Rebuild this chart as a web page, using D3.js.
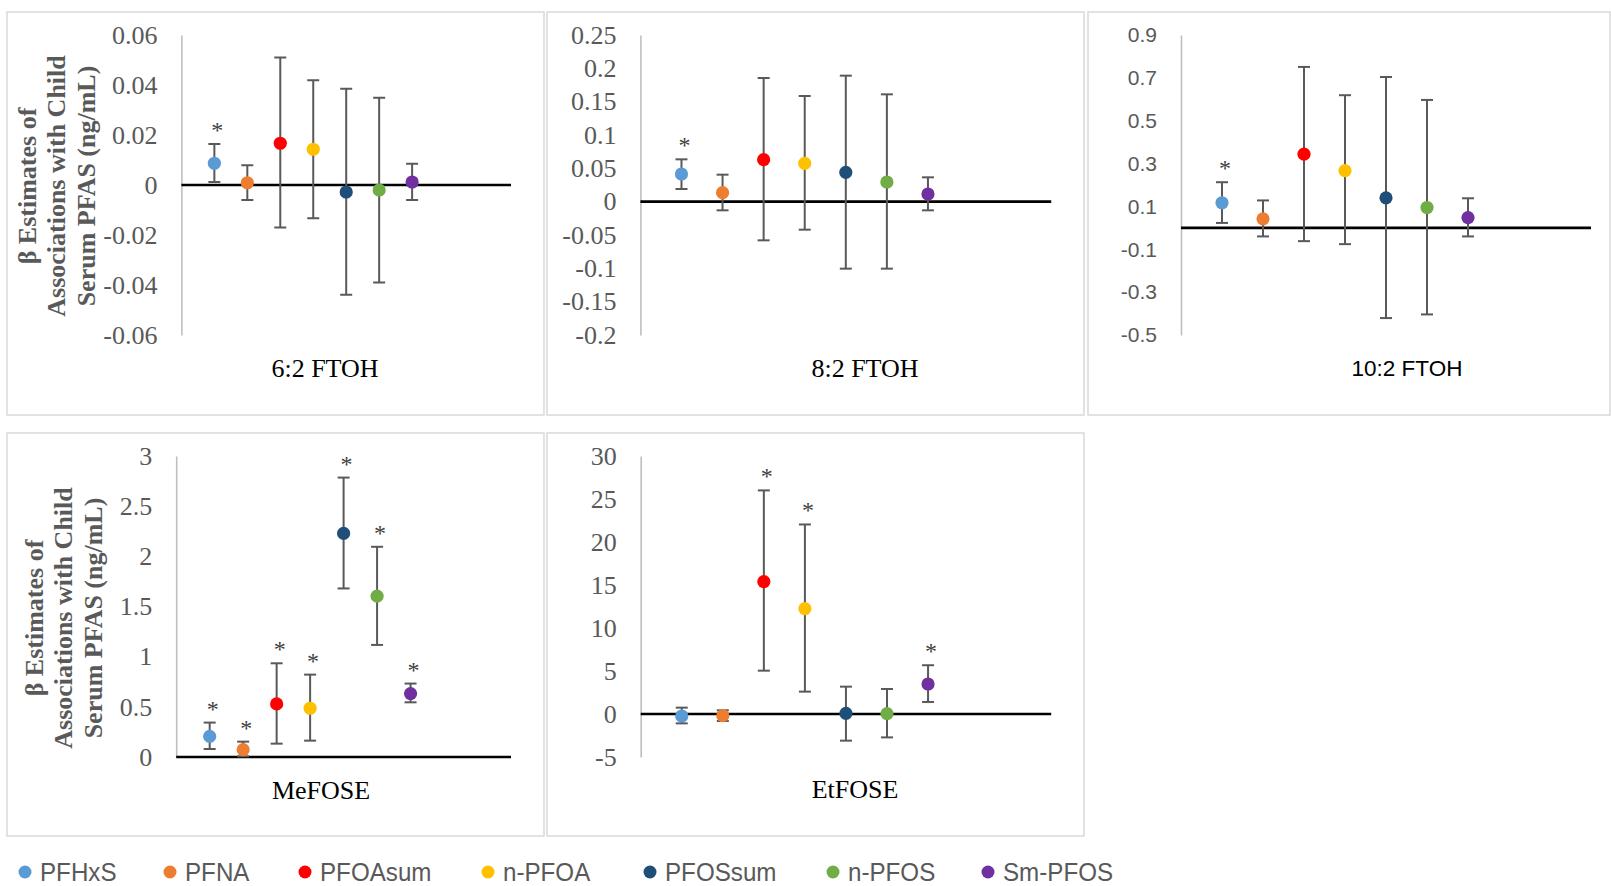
<!DOCTYPE html>
<html>
<head>
<meta charset="utf-8">
<script src="https://cdn.jsdelivr.net/npm/d3@7"></script>
<style>
  html, body { margin: 0; padding: 0; background: #ffffff; }
  svg { display: block; }
</style>
</head>
<body>
<svg id="chart" width="1611" height="886"></svg>
<script>
// ---------------- DATA ----------------
const categories = ["PFHxS", "PFNA", "PFOAsum", "n-PFOA", "PFOSsum", "n-PFOS", "Sm-PFOS"];
const seriesColors = ["#5B9BD5", "#ED7D31", "#FF0000", "#FFC000", "#1F4E79", "#70AD47", "#7030A0"];

const panelTitles = ["6:2 FTOH", "8:2 FTOH", "10:2 FTOH", "MeFOSE", "EtFOSE"];

// 6:2 FTOH
const ftoh62Est = [0.0087, 0.0009, 0.0167, 0.0143, -0.0028, -0.0020, 0.0012];
const ftoh62Lo  = [0.0012, -0.0060, -0.0170, -0.0133, -0.0439, -0.0390, -0.0060];
const ftoh62Hi  = [0.0164, 0.0079, 0.0510, 0.0419, 0.0385, 0.0349, 0.0085];
const ftoh62Sig = [true, false, false, false, false, false, false];
const ftoh62Ticks = [0.06, 0.04, 0.02, 0, -0.02, -0.04, -0.06];

// 8:2 FTOH
const ftoh82Est = [0.0415, 0.0135, 0.0630, 0.0575, 0.0440, 0.0295, 0.0115];
const ftoh82Lo  = [0.0190, -0.0130, -0.0580, -0.0420, -0.1005, -0.1005, -0.0130];
const ftoh82Hi  = [0.0635, 0.0405, 0.1855, 0.1585, 0.1890, 0.1610, 0.0365];
const ftoh82Sig = [true, false, false, false, false, false, false];
const ftoh82Ticks = [0.25, 0.2, 0.15, 0.1, 0.05, 0, -0.05, -0.1, -0.15, -0.2];

// 10:2 FTOH
const ftoh102Est = [0.117, 0.042, 0.344, 0.267, 0.140, 0.095, 0.048];
const ftoh102Lo  = [0.023, -0.040, -0.062, -0.076, -0.421, -0.404, -0.040];
const ftoh102Hi  = [0.213, 0.128, 0.751, 0.619, 0.704, 0.597, 0.138];
const ftoh102Sig = [true, false, false, false, false, false, false];
const ftoh102Ticks = [0.9, 0.7, 0.5, 0.3, 0.1, -0.1, -0.3, -0.5];

// MeFOSE
const mefoseEst = [0.206, 0.073, 0.529, 0.486, 2.228, 1.603, 0.632];
const mefoseLo  = [0.080, 0.007, 0.133, 0.163, 1.680, 1.117, 0.545];
const mefoseHi  = [0.343, 0.153, 0.934, 0.821, 2.785, 2.095, 0.732];
const mefoseSig = [true, true, true, true, true, true, true];
const mefoseTicks = [3, 2.5, 2, 1.5, 1, 0.5, 0];

// EtFOSE
const etfoseEst = [-0.23, -0.19, 15.4, 12.26, 0.08, 0.04, 3.49];
const etfoseLo  = [-1.09, -0.81, 5.04, 2.60, -3.10, -2.72, 1.40];
const etfoseHi  = [0.74, 0.43, 26.0, 22.04, 3.18, 2.91, 5.67];
const etfoseSig = [false, false, true, true, false, false, true];
const etfoseTicks = [30, 25, 20, 15, 10, 5, 0, -5];

const yAxisTitleLines = ["β Estimates of", "Associations with Child", "Serum PFAS (ng/mL)"];

// ---------------- LAYOUT ----------------
const panelData = [
  { est: ftoh62Est, lo: ftoh62Lo, hi: ftoh62Hi, sig: ftoh62Sig, ticks: ftoh62Ticks },
  { est: ftoh82Est, lo: ftoh82Lo, hi: ftoh82Hi, sig: ftoh82Sig, ticks: ftoh82Ticks },
  { est: ftoh102Est, lo: ftoh102Lo, hi: ftoh102Hi, sig: ftoh102Sig, ticks: ftoh102Ticks },
  { est: mefoseEst, lo: mefoseLo, hi: mefoseHi, sig: mefoseSig, ticks: mefoseTicks },
  { est: etfoseEst, lo: etfoseLo, hi: etfoseHi, sig: etfoseSig, ticks: etfoseTicks }
];

const panelLayout = [
  { bx: 7,    by: 12,  bw: 537, bh: 403, ax: 181.4, ar: 511,    top: 35,  bottom: 335, serif: true,  tx: 325,  ty: 368, yt: { cx: [27, 56.5, 86], cy: 186 } },
  { bx: 547,  by: 12,  bw: 537, bh: 403, ax: 640.4, ar: 1051.2, top: 35,  bottom: 335, serif: true,  tx: 865,  ty: 368 },
  { bx: 1088, by: 12,  bw: 522, bh: 403, ax: 1181,  ar: 1591,   top: 35,  bottom: 335, serif: false, tx: 1407, ty: 368 },
  { bx: 7,    by: 433, bw: 537, bh: 403, ax: 176.2, ar: 511,    top: 456, bottom: 757, serif: true,  tx: 321,  ty: 790, yt: { cx: [34, 63.5, 93], cy: 618 } },
  { bx: 547,  by: 433, bw: 537, bh: 403, ax: 640.7, ar: 1051.2, top: 456, bottom: 757, serif: true,  tx: 855,  ty: 789 }
];

// legend item marker positions (layout only)
const legendLayout = { y: 872, markerX: [25, 170, 305, 488, 650, 833, 988], textGap: 15, textScale: 0.93 };

const SERIF = "'Liberation Serif', 'Times New Roman', serif";
const SANS = "'Liberation Sans', Arial, sans-serif";
const GREY = "#595959";

const svg = d3.select("#chart");

panelData.forEach((pd, pi) => {
  const L = panelLayout[pi];
  const g = svg.append("g");

  // panel border
  g.append("rect")
    .attr("x", L.bx).attr("y", L.by).attr("width", L.bw).attr("height", L.bh)
    .attr("fill", "#ffffff").attr("stroke", "#d9d9d9").attr("stroke-width", 1.5);

  const y = d3.scaleLinear()
    .domain([d3.min(pd.ticks), d3.max(pd.ticks)])
    .range([L.bottom, L.top]);
  const x = d3.scaleLinear().domain([0, 10]).range([L.ax, L.ar]);

  // y axis
  const fmt = v => (v === 0 ? "0" : String(v));
  const axis = d3.axisLeft(y)
    .tickValues(pd.ticks)
    .tickFormat(fmt)
    .tickSizeInner(0)
    .tickSizeOuter(0)
    .tickPadding(24);
  const ag = g.append("g").attr("transform", `translate(${L.ax},0)`).call(axis);
  ag.select(".domain").attr("stroke", "#bfbfbf").attr("stroke-width", 1.6);
  ag.selectAll(".tick line").remove();
  ag.selectAll(".tick text")
    .attr("fill", GREY)
    .style("font-family", L.serif ? SERIF : SANS)
    .style("font-size", L.serif ? "26px" : "21px");

  // zero line
  g.append("line")
    .attr("x1", x.range()[0]).attr("x2", x.range()[1])
    .attr("y1", y(0)).attr("y2", y(0))
    .attr("stroke", "#000000").attr("stroke-width", 2.6);

  const idx = d3.range(categories.length);

  // error bars
  const eb = g.append("g").attr("stroke", GREY).attr("stroke-width", 2).attr("fill", "none");
  idx.forEach(i => {
    const cx = x(i + 1);
    eb.append("line").attr("x1", cx).attr("x2", cx).attr("y1", y(pd.lo[i])).attr("y2", y(pd.hi[i]));
    eb.append("line").attr("x1", cx - 6).attr("x2", cx + 6).attr("y1", y(pd.hi[i])).attr("y2", y(pd.hi[i]));
    eb.append("line").attr("x1", cx - 6).attr("x2", cx + 6).attr("y1", y(pd.lo[i])).attr("y2", y(pd.lo[i]));
  });

  // points
  g.append("g").selectAll("circle")
    .data(idx)
    .join("circle")
    .attr("cx", i => x(i + 1))
    .attr("cy", i => y(pd.est[i]))
    .attr("r", 6.6)
    .attr("fill", i => seriesColors[i]);

  // significance stars
  g.append("g").selectAll("text")
    .data(idx.filter(i => pd.sig[i]))
    .join("text")
    .attr("x", i => x(i + 1) + 3)
    .attr("y", i => y(pd.hi[i]) - 6)
    .attr("text-anchor", "middle")
    .attr("fill", "#404040")
    .style("font-family", SERIF)
    .style("font-size", "24px")
    .text("*");

  // panel title
  g.append("text")
    .attr("x", L.tx).attr("y", L.ty)
    .attr("dy", "0.35em")
    .attr("text-anchor", "middle")
    .attr("fill", "#000000")
    .style("font-family", L.serif ? SERIF : SANS)
    .style("font-size", L.serif ? "26px" : "22.5px")
    .text(panelTitles[pi]);

  // y axis title
  if (L.yt) {
    yAxisTitleLines.forEach((line, li) => {
      g.append("text")
        .attr("transform", `translate(${L.yt.cx[li]},${L.yt.cy}) rotate(-90)`)
        .attr("text-anchor", "middle")
        .attr("dominant-baseline", "central")
        .attr("fill", GREY)
        .style("font-family", SERIF)
        .style("font-weight", "bold")
        .style("font-size", "26px")
        .text(line);
    });
  }
});

// ---------------- LEGEND ----------------
const legend = svg.append("g");
categories.forEach((c, i) => {
  const mx = legendLayout.markerX[i];
  legend.append("circle")
    .attr("cx", mx).attr("cy", legendLayout.y)
    .attr("r", 6.5)
    .attr("fill", seriesColors[i]);
  legend.append("text")
    .attr("transform", `translate(${mx + legendLayout.textGap},${legendLayout.y}) scale(${legendLayout.textScale},1)`)
    .attr("dy", "0.35em")
    .attr("fill", GREY)
    .style("font-family", SANS)
    .style("font-size", "26px")
    .text(c);
});
</script>
</body>
</html>
